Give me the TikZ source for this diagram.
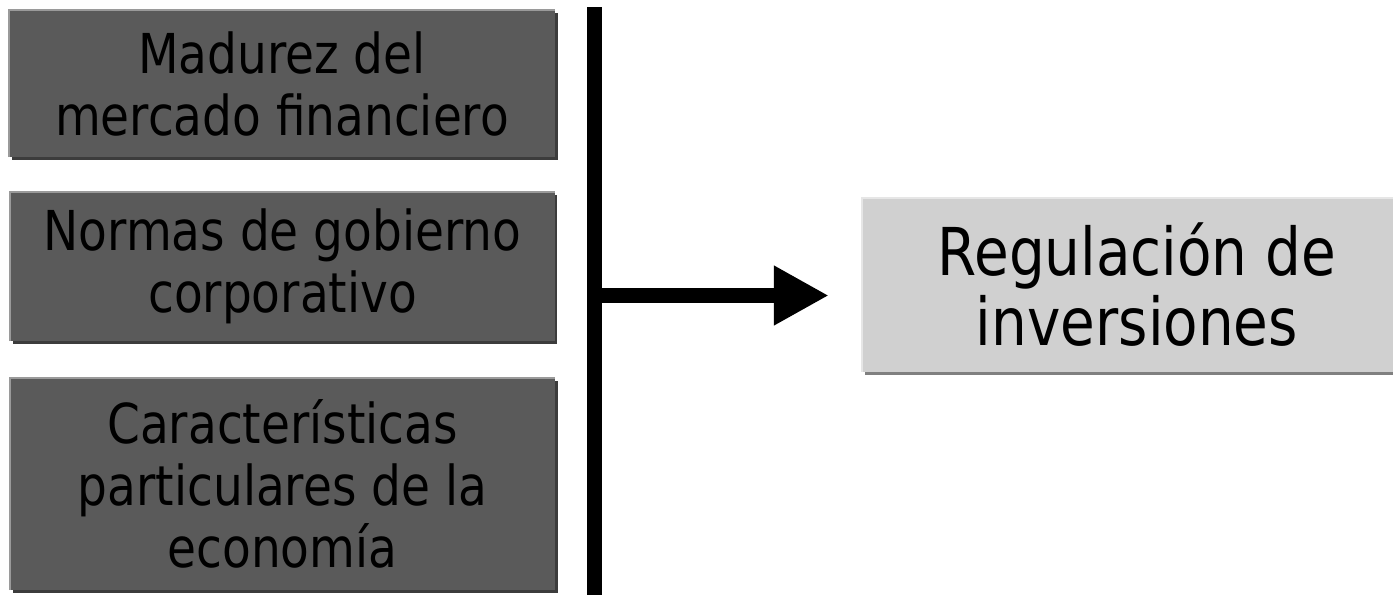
\documentclass[tikz,border=0pt]{standalone}
\usepackage{fontspec}
\setmainfont{DejaVu Sans Condensed}[FakeStretch=0.95]
\usetikzlibrary{arrows.meta}
\definecolor{darkfill}{HTML}{5A5A5A}
\definecolor{darkhi}{HTML}{9A9A9A}
\definecolor{darksh}{HTML}{3C3C3C}
\definecolor{lightfill}{HTML}{D0D0D0}
\definecolor{lighthi}{HTML}{E6E6E6}
\definecolor{lightsh}{HTML}{808080}
\tikzset{
  factor/.style={fill=darkfill, minimum width=545pt, inner sep=0pt, align=center,
    font=\fontsize{55pt}{62pt}\selectfont, text=black},
  result/.style={fill=lightfill, minimum width=550pt, minimum height=174pt, inner sep=0pt, align=center,
    font=\fontsize{66pt}{70pt}\selectfont, text=black},
  bar/.style={line width=15pt, black},
}
\begin{document}
\begin{tikzpicture}[x=1pt,y=-1pt]
\useasboundingbox (0,0) rectangle (1393,595);
% shadows
\fill[darksh] (12,13) rectangle (558,160);
\fill[darksh] (13,195) rectangle (557,344);
\fill[darksh] (13,381) rectangle (558,593);
\fill[lightsh] (865,201) rectangle (1415,375);
% factor boxes
\node[factor, minimum height=147pt] (f1) at (282,83.5) {Madurez del\\mercado financiero};
\node[factor, minimum height=149pt] (f2) at (282.5,266.5) {Normas de gobierno\\corporativo};
\node[factor, minimum height=212pt] (f3) at (282.5,484) {Características\\particulares de la\\economía};
\foreach \n in {f1,f2,f3}{
  \draw[darkhi, line width=2pt] (\n.south west) -- (\n.north west) -- (\n.north east);
}
% result box
\node[result] (r) at (1137,285) {Regulación de\\inversiones};
\draw[lighthi, line width=2pt] (r.south west) -- (r.north west) -- (r.north east);
% bar and arrow
\coordinate (bt) at (594,7);
\coordinate (bb) at (594,595);
\coordinate (bm) at (594,295.5);
\draw[bar] (bt) -- (bb);
\draw[bar, -{Triangle[length=55pt, width=56pt]}] (bm) -- ([xshift=-33pt]r.west |- bm);
\end{tikzpicture}
\end{document}
